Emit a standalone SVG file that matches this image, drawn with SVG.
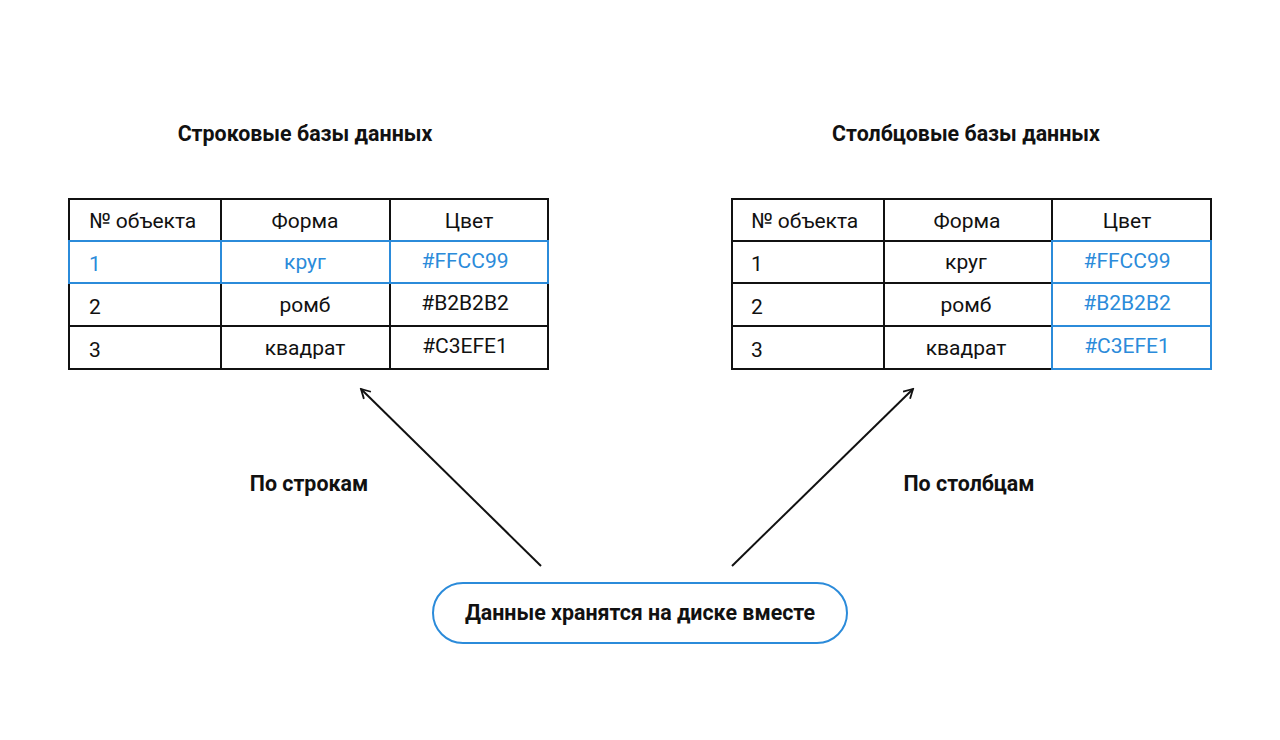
<svg xmlns="http://www.w3.org/2000/svg" width="1280" height="740" viewBox="0 0 1280 740">
<defs>
<style>
text{font-family:Roboto,"Liberation Sans",sans-serif;fill:#111}
.t{font-size:21.4px;font-weight:bold}
.c{font-size:21px}
.m{text-anchor:middle}
.b{fill:#2B8BDA}
.grid{stroke:#111;stroke-width:2;fill:none}
.hl{stroke:#2B8BDA;stroke-width:2;fill:none}
.conn{stroke:#111;stroke-width:2;fill:none}
</style>
<marker id="ah" viewBox="0 0 12 12" refX="10" refY="6" markerWidth="12" markerHeight="12" markerUnits="userSpaceOnUse" orient="auto">
<path d="M1,1 L10,6 L1,11" fill="none" stroke="#111" stroke-width="1.8"/>
</marker>
</defs>
<rect width="1280" height="740" fill="#fff"/>

<g id="row-db">
<text class="t m" x="305" y="141">Строковые базы данных</text>
<rect class="grid" x="69" y="199" width="479" height="170"/>
<line class="grid" x1="221" y1="199" x2="221" y2="369"/>
<line class="grid" x1="390" y1="199" x2="390" y2="369"/>
<line class="grid" x1="69" y1="283" x2="548" y2="283"/>
<line class="grid" x1="69" y1="326" x2="548" y2="326"/>
<rect class="hl" x="69" y="241" width="479" height="42"/>
<line class="hl" x1="221" y1="241" x2="221" y2="283"/>
<line class="hl" x1="390" y1="241" x2="390" y2="283"/>
<text class="c" x="89" y="228">№ объекта</text>
<text class="c m" x="305" y="228">Форма</text>
<text class="c m" x="469" y="228">Цвет</text>
<text class="c b" x="89" y="271">1</text>
<text class="c m b" x="305" y="269">круг</text>
<text class="c m b" x="465" y="268">#FFCC99</text>
<text class="c" x="89" y="314">2</text>
<text class="c m" x="305" y="312">ромб</text>
<text class="c m" x="465" y="310">#B2B2B2</text>
<text class="c" x="89" y="357">3</text>
<text class="c m" x="305" y="355">квадрат</text>
<text class="c m" x="465" y="353">#C3EFE1</text>
</g>

<g id="col-db">
<text class="t m" x="966" y="141">Столбцовые базы данных</text>
<rect class="grid" x="732" y="199" width="479" height="170"/>
<line class="grid" x1="884" y1="199" x2="884" y2="369"/>
<line class="grid" x1="1052" y1="199" x2="1052" y2="369"/>
<line class="grid" x1="732" y1="241" x2="1211" y2="241"/>
<line class="grid" x1="732" y1="283" x2="1211" y2="283"/>
<line class="grid" x1="732" y1="326" x2="1211" y2="326"/>
<rect class="hl" x="1052" y="241" width="159" height="128"/>
<line class="hl" x1="1052" y1="283" x2="1211" y2="283"/>
<line class="hl" x1="1052" y1="326" x2="1211" y2="326"/>
<text class="c" x="751" y="228">№ объекта</text>
<text class="c m" x="967" y="228">Форма</text>
<text class="c m" x="1127" y="228">Цвет</text>
<text class="c" x="751" y="271">1</text>
<text class="c m" x="966" y="269">круг</text>
<text class="c m b" x="1127" y="268">#FFCC99</text>
<text class="c" x="751" y="314">2</text>
<text class="c m" x="966" y="312">ромб</text>
<text class="c m b" x="1127" y="310">#B2B2B2</text>
<text class="c" x="751" y="357">3</text>
<text class="c m" x="966" y="355">квадрат</text>
<text class="c m b" x="1127" y="353">#C3EFE1</text>
</g>

<g id="disk">
<rect x="433" y="583" width="414" height="60" rx="30" fill="#fff" stroke="#2B8BDA" stroke-width="2"/>
<text class="t m" x="640" y="620">Данные хранятся на диске вместе</text>
</g>

<g id="connectors">
<line class="conn" x1="541" y1="566" x2="361" y2="389" marker-end="url(#ah)"/>
<line class="conn" x1="732" y1="566" x2="913" y2="389" marker-end="url(#ah)"/>
<text class="t m" x="309" y="491">По строкам</text>
<text class="t m" x="969" y="491">По столбцам</text>
</g>
</svg>
